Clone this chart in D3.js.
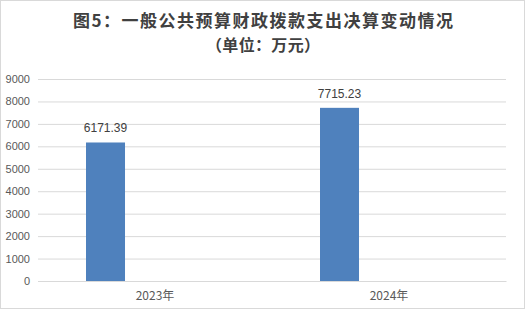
<!DOCTYPE html>
<html>
<head>
<meta charset="utf-8">
<script src="https://cdn.jsdelivr.net/npm/d3@7/dist/d3.min.js"></script>
<style>
  body { margin: 0; background: #fff; }
  text { font-family: "Noto Sans CJK SC", "Liberation Sans", sans-serif; }
</style>
</head>
<body>
<div id="chart"></div>
<script>
// data
var categories = ["2023年", "2024年"];
var values = [6171.39, 7715.23];
var yTicks = [0, 1000, 2000, 3000, 4000, 5000, 6000, 7000, 8000, 9000];
var titleLines = ["图5：一般公共预算财政拨款支出决算变动情况", "（单位：万元）"];
var series = ["决算数", "空"];

var W = 526, H = 310;
var margin = {top: 79, right: 20, bottom: 29, left: 38};
var width = W - margin.left - margin.right,
    height = H - margin.top - margin.bottom;

var root = d3.select("#chart").append("svg")
    .attr("width", W)
    .attr("height", H);

// outer border
root.append("rect")
    .attr("x", 0.5).attr("y", 0.5)
    .attr("width", W - 2).attr("height", H - 2)
    .attr("fill", "#fff")
    .attr("stroke", "#d9d9d9");

var titleWidths = [380, 114];
root.selectAll(".title")
    .data(titleLines)
    .enter().append("text")
    .attr("class", "title")
    .attr("x", 263)
    .attr("y", function(d, i) { return 27 + i * 24; })
    .attr("text-anchor", "middle")
    .attr("textLength", function(d, i) { return titleWidths[i]; })
    .attr("lengthAdjust", "spacing")
    .style("font-size", function(d, i) { return i ? "16px" : "17px"; })
    .style("font-weight", "bold")
    .style("fill", "#404040")
    .text(function(d) { return d; });

var svg = root.append("g")
    .attr("transform", "translate(" + margin.left + "," + margin.top + ")");

var xScale = d3.scaleBand().domain(categories).range([0, width]);
var xInner = d3.scaleBand().domain(series).range([0, xScale.bandwidth()])
    .paddingInner(0.606).paddingOuter(0.485);
var yScale = d3.scaleLinear().domain([0, 9000]).range([height, 0]);

var yAxis = d3.axisLeft(yScale)
    .tickValues(yTicks)
    .tickFormat(d3.format("d"))
    .tickSize(-width)
    .tickPadding(8);

var yAxisGroup = svg.append("g")
    .attr("class", "y axis")
    .call(yAxis);
yAxisGroup.select(".domain").remove();
yAxisGroup.selectAll("line").attr("stroke", "#d9d9d9");
yAxisGroup.selectAll("text")
    .style("font-size", "11px")
    .style("fill", "#595959")
    .style("font-family", "'Liberation Sans', sans-serif");

var xAxis = d3.axisBottom(xScale).tickSize(0).tickPadding(10);
var xAxisGroup = svg.append("g")
    .attr("class", "x axis")
    .attr("transform", "translate(0," + height + ")")
    .call(xAxis);
xAxisGroup.select(".domain").attr("stroke", "#d9d9d9");
xAxisGroup.selectAll("text")
    .style("font-size", "12px")
    .style("fill", "#595959");

var bars = svg.selectAll(".bar")
    .data(values)
    .enter().append("rect")
    .attr("class", "bar")
    .attr("x", function(d, i) { return xScale(categories[i]) + xInner(series[0]); })
    .attr("y", function(d) { return yScale(d); })
    .attr("width", xInner.bandwidth())
    .attr("height", function(d) { return height - yScale(d); })
    .attr("fill", "#4f81bd");

svg.selectAll(".label")
    .data(values)
    .enter().append("text")
    .attr("class", "label")
    .attr("x", function(d, i) { return xScale(categories[i]) + xInner(series[0]) + xInner.bandwidth() / 2; })
    .attr("y", function(d) { return yScale(d) - 10; })
    .attr("text-anchor", "middle")
    .style("font-size", "12px")
    .style("fill", "#404040")
    .style("font-family", "'Liberation Sans', sans-serif")
    .text(function(d) { return d3.format(".2f")(d); });
</script>
</body>
</html>
